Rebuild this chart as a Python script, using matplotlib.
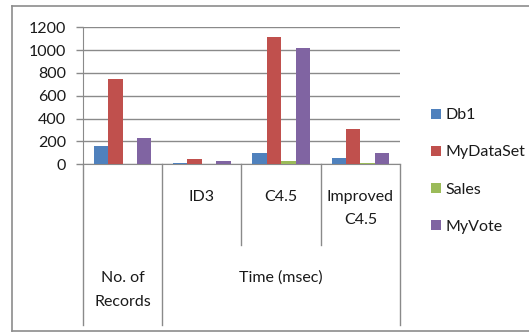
import matplotlib
matplotlib.use("Agg")
import matplotlib.pyplot as plt
from matplotlib.patches import Patch
from matplotlib.lines import Line2D
from matplotlib.transforms import blended_transform_factory
import numpy as np

plt.rcParams['font.family'] = ['Lato', 'DejaVu Sans']

groups = ["No. of\nRecords", "ID3", "C4.5", "Improved\nC4.5"]
series = ["Db1", "MyDataSet", "Sales", "MyVote"]
db1 = [160, 14, 96, 58]
mydataset = [750, 44, 1112, 306]
sales = [0, 2, 29, 15]
myvote = [228, 26, 1021, 96]
values = [db1, mydataset, sales, myvote]
colors = ["#4F81BD", "#C0504D", "#9BBB59", "#8064A2"]
yticks = [0, 200, 400, 600, 800, 1000, 1200]

W, H = 529, 333
FS = 11.5
fig = plt.figure(figsize=(W / 100, H / 100), dpi=100)
fig.patch.set_facecolor("white")

def fx(px):
    return px / W

def fy(py):
    return 1 - py / H

# outer chart frame (left, top, bottom edges)
frame_col = "#8c8c8c"
for (x0, y0, x1, y1) in [(12, 6, 12, 331), (12, 6, 529, 6), (12, 331, 529, 331)]:
    fig.add_artist(Line2D([fx(x0), fx(x1)], [fy(y0), fy(y1)], color=frame_col, lw=1.2))

ax_l, ax_r, ax_t, ax_b = 83, 400, 27.3, 164.3
ax = fig.add_axes([fx(ax_l), fy(ax_b), fx(ax_r - ax_l), (ax_b - ax_t) / H])

n = len(series)
width = 1 / (n + 1.5)
centers = np.arange(len(groups)) + 0.5
for i, (name, vals, c) in enumerate(zip(series, values, colors)):
    ax.bar(centers + (i - (n - 1) / 2) * width, vals, width, color=c, label=name, zorder=3)

ax.set_xlim(0, len(groups))
ax.set_ylim(0, 1200)
ax.set_yticks(yticks)
ax.set_yticklabels([str(v) for v in yticks], fontsize=FS, color="#1a1a1a")
ax.set_xticks([])
ax.yaxis.grid(True, color="#8a8a8a", lw=1.0, zorder=0)
for s in ["top", "right"]:
    ax.spines[s].set_visible(False)
ax.spines["left"].set_color("#8a8a8a")
ax.spines["bottom"].set_color("#8a8a8a")
ax.tick_params(axis="y", length=5, width=1, color="#8a8a8a", pad=7)

# two-level category axis
tr = blended_transform_factory(ax.transData, ax.transAxes)
def ay(py):
    return (ax_b - py) / (ax_b - ax_t)

for xd in [0, 1, 4]:
    ax.add_line(Line2D([xd, xd], [0, ay(325)], transform=tr, color="#8a8a8a", lw=1.0, clip_on=False))
for xd in [2, 3]:
    ax.add_line(Line2D([xd, xd], [0, ay(245)], transform=tr, color="#8a8a8a", lw=1.0, clip_on=False))

txt_kw = dict(transform=tr, ha="center", fontsize=FS, color="#1a1a1a", linespacing=1.85)
for xc, lab in zip(centers[1:], groups[1:]):
    ax.text(xc, ay(190), lab, va="top", **txt_kw)
ax.text(centers[0], ay(290), groups[0], va="center", **txt_kw)
ax.text(2.5, ay(278), "Time (msec)", va="center", **txt_kw)

handles = [Patch(facecolor=c, edgecolor="none") for c in colors]
fig.legend(handles, series, loc="center left", bbox_to_anchor=(fx(417), fy(171)),
           frameon=False, fontsize=FS, handlelength=0.6, handleheight=0.6,
           handletextpad=0.3, labelspacing=1.45, labelcolor="#1a1a1a")

fig.savefig("out.png", dpi=100)
